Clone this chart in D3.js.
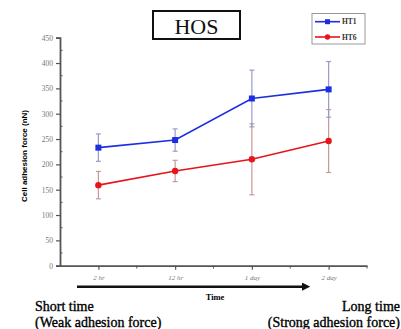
<!DOCTYPE html>
<html><head><meta charset="utf-8">
<script src="https://cdn.jsdelivr.net/npm/d3@7"></script>
<style>body{margin:0;background:#fff}svg{display:block}</style>
</head><body>
<script>
const categories = ["2 hr", "12 hr", "1 day", "2 day"];
const ht1 = [233, 248, 330, 348];
const ht1Err = [27, 22, 56, 55];
const ht6 = [159, 187, 210, 246];
const ht6Err = [27, 21, 70, 62];
const yTicks = [0, 50, 100, 150, 200, 250, 300, 350, 400, 450];

const SERIF = "'Liberation Serif'";
const SANS = "'Liberation Sans'";

const W = 401, H = 329;
const svg = d3.select("body").append("svg").attr("width", W).attr("height", H);

const x = d3.scaleLinear().domain([-0.5, 3.5]).range([60, 367]);
const y = d3.scaleLinear().domain([0, 450]).range([265.7, 37.7]);

const axisColor = "#555";
const yAxis = svg.append("g").attr("transform", "translate(60,0)")
  .call(d3.axisLeft(y).tickValues(yTicks).tickSize(4).tickPadding(3));
yAxis.select(".domain").attr("stroke", axisColor).attr("stroke-width", 1.8);
yAxis.selectAll(".tick line").attr("stroke", axisColor).attr("stroke-width", 1.2);
yAxis.selectAll(".tick text").attr("fill", "#777").style("font-family", SERIF).style("font-size", "7.5px");
svg.append("g").selectAll("line").data(d3.range(25, 450, 50)).join("line")
  .attr("x1", 60).attr("x2", 62.5).attr("y1", d => y(d)).attr("y2", d => y(d))
  .attr("stroke", axisColor).attr("stroke-width", 1);

const xAxis = svg.append("g").attr("transform", "translate(0,265.7)")
  .call(d3.axisBottom(x).tickValues([0,1,2,3]).tickFormat(i => categories[i]).tickSize(4).tickPadding(5).tickSizeOuter(0));
xAxis.select(".domain").attr("stroke", axisColor).attr("stroke-width", 1.8);
xAxis.selectAll(".tick line").attr("stroke", axisColor).attr("stroke-width", 1.2);
xAxis.selectAll(".tick text").attr("fill", "#777").style("font-family", SERIF).style("font-size", "7px").style("font-style", "italic");
svg.append("g").selectAll("line").data([0.5, 1.5, 2.5, 3.5]).join("line")
  .attr("x1", d => x(d)).attr("x2", d => x(d)).attr("y1", 265.7).attr("y2", 268.5)
  .attr("stroke", axisColor).attr("stroke-width", 1);

svg.append("text").attr("transform", "translate(27,156) rotate(-90)")
  .attr("text-anchor", "middle").style("font-family", SANS).style("font-weight", "bold")
  .style("font-size", "8px").text("Cell adhesion force (nN)");

function drawSeries(vals, errs, color, errColor, marker) {
  const g = svg.append("g");
  vals.forEach((v, i) => {
    const cx = x(i);
    g.append("line").attr("x1", cx).attr("x2", cx).attr("y1", y(v - errs[i])).attr("y2", y(v + errs[i]))
      .attr("stroke", errColor).attr("stroke-width", 1.2);
    [v - errs[i], v + errs[i]].forEach(e => {
      g.append("line").attr("x1", cx - 2.5).attr("x2", cx + 2.5).attr("y1", y(e)).attr("y2", y(e))
        .attr("stroke", errColor).attr("stroke-width", 1.2);
    });
  });
  g.append("path").datum(vals)
    .attr("d", d3.line().x((d, i) => x(i)).y(d => y(d)))
    .attr("fill", "none").attr("stroke", color).attr("stroke-width", 1.6);
  vals.forEach((v, i) => {
    if (marker === "square") {
      g.append("rect").attr("x", x(i) - 3).attr("y", y(v) - 3).attr("width", 6).attr("height", 6).attr("fill", color);
    } else {
      g.append("circle").attr("cx", x(i)).attr("cy", y(v)).attr("r", 3.2).attr("fill", color);
    }
  });
}
drawSeries(ht6, ht6Err, "#e8141b", "#c49a9a", "circle");
drawSeries(ht1, ht1Err, "#1b2fe0", "#9a9ac8", "square");

svg.append("rect").attr("x", 153).attr("y", 11).attr("width", 87).attr("height", 28)
  .attr("fill", "#fff").attr("stroke", "#111").attr("stroke-width", 2);
svg.append("text").attr("x", 196.5).attr("y", 34).attr("text-anchor", "middle")
  .style("font-family", SERIF).style("font-size", "22px").attr("fill", "#111").text("HOS");

const lg = svg.append("g");
lg.append("rect").attr("x", 312).attr("y", 13.5).attr("width", 53).attr("height", 30.5)
  .attr("fill", "#fff").attr("stroke", "#999").attr("stroke-width", 1);
[["HT1", "#1b2fe0", "square", 21.7], ["HT6", "#e8141b", "circle", 37]].forEach(([name, c, m, ly]) => {
  lg.append("line").attr("x1", 315).attr("x2", 340).attr("y1", ly).attr("y2", ly).attr("stroke", c).attr("stroke-width", 1.6);
  if (m === "square") lg.append("rect").attr("x", 325).attr("y", ly - 2.5).attr("width", 5).attr("height", 5).attr("fill", c);
  else lg.append("circle").attr("cx", 327.5).attr("cy", ly).attr("r", 2.7).attr("fill", c);
  lg.append("text").attr("x", 342).attr("y", ly + 2.6).style("font-family", SERIF).style("font-weight", "bold")
    .style("font-size", "7.5px").attr("fill", "#333").text(name);
});

const defs = svg.append("defs");
defs.append("marker").attr("id", "ah").attr("viewBox", "0 0 10 10").attr("refX", 0).attr("refY", 5)
  .attr("markerWidth", 3.2).attr("markerHeight", 3.2).attr("orient", "auto")
  .append("path").attr("d", "M0,0 L10,5 L0,10 Z").attr("fill", "#111");
svg.append("line").attr("x1", 77).attr("x2", 302).attr("y1", 286.7).attr("y2", 286.7)
  .attr("stroke", "#111").attr("stroke-width", 2.6).attr("marker-end", "url(#ah)");
svg.append("text").attr("x", 215).attr("y", 300).attr("text-anchor", "middle")
  .style("font-family", SERIF).style("font-weight", "bold").style("font-size", "8.5px").text("Time");

const tf = (sel) => sel.style("font-family", SERIF).style("font-size", "14px").attr("fill", "#000")
  .attr("stroke", "#000").attr("stroke-width", 0.35);
tf(svg.append("text").attr("x", 35).attr("y", 311).text("Short time"));
tf(svg.append("text").attr("x", 35).attr("y", 326.5).text("(Weak adhesion force)"));
tf(svg.append("text").attr("x", 400).attr("y", 311).attr("text-anchor", "end").text("Long time"));
tf(svg.append("text").attr("x", 400).attr("y", 326.5).attr("text-anchor", "end").text("(Strong adhesion force)"));
</script>
</body></html>
